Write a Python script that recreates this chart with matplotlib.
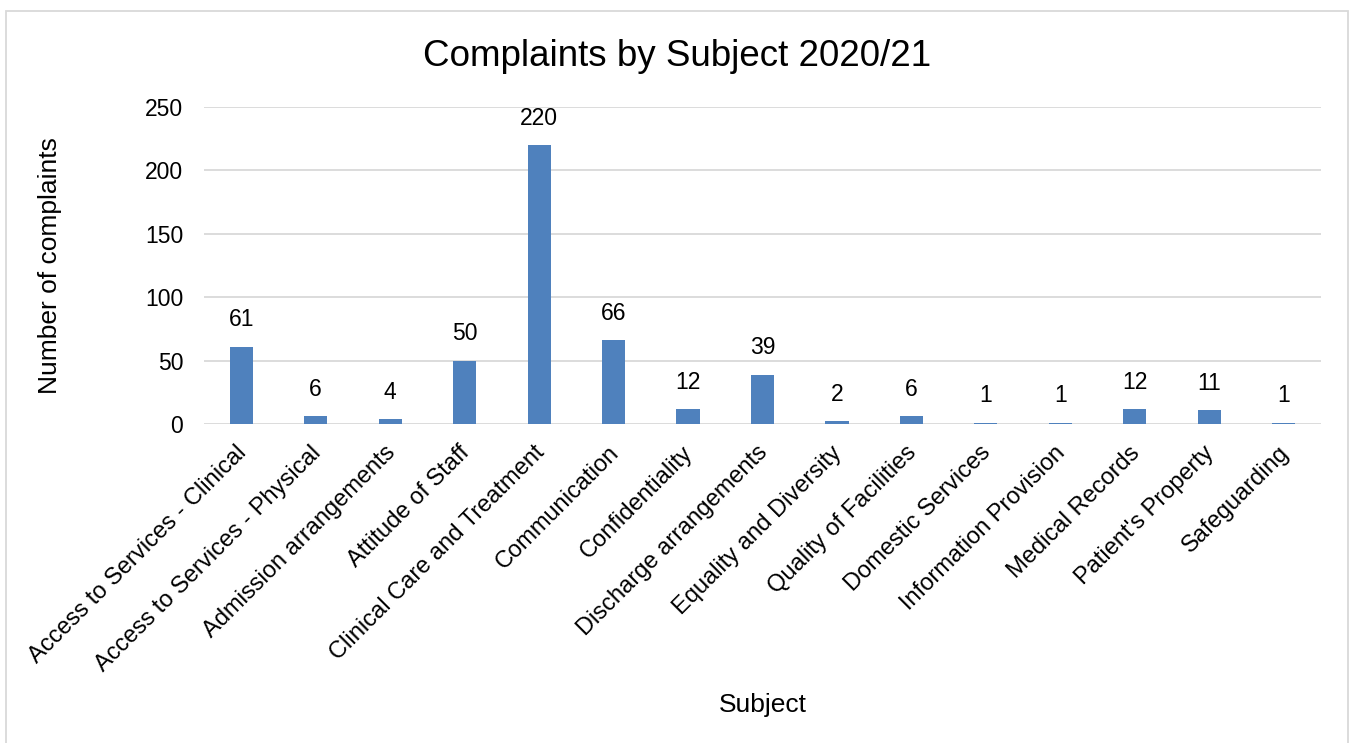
import matplotlib.pyplot as plt
import numpy as np
from matplotlib.patches import Rectangle
from matplotlib.transforms import ScaledTranslation

plt.rcParams['font.family'] = ['Liberation Sans', 'DejaVu Sans']

subjects = [
    'Access to Services - Clinical', 'Access to Services - Physical',
    'Admission arrangements', 'Attitude of Staff', 'Clinical Care and Treatment',
    'Communication', 'Confidentiality', 'Discharge arrangements',
    'Equality and Diversity', 'Quality of Facilities', 'Domestic Services',
    'Information Provision', 'Medical Records', "Patient's Property", 'Safeguarding',
]
complaints = [61, 6, 4, 50, 220, 66, 12, 39, 2, 6, 1, 1, 12, 11, 1]
yticks = [0, 50, 100, 150, 200, 250]

W, H = 1354, 743
fig = plt.figure(figsize=(W / 100, H / 100), dpi=100)
ax = fig.add_axes([204 / W, 1 - 424 / H, (1321 - 204) / W, (424 - 107) / H])

x = np.arange(len(subjects))
bars = ax.bar(x, complaints, width=0.31, color='#4f81bd', zorder=3)
for b, v in zip(bars, complaints):
    ax.annotate(str(v), (b.get_x() + b.get_width() / 2, v), xytext=(0, 11),
                textcoords='offset points', ha='center', va='bottom',
                fontsize=16.5, color='#000000')

ax.set_xlim(-0.5, len(subjects) - 0.5)
ax.set_ylim(0, 250)
ax.set_yticks(yticks)
ax.set_xticks(x)
ax.set_xticklabels(subjects, rotation=45, ha='right', rotation_mode='anchor',
                   fontsize=17)
ax.tick_params(axis='y', labelsize=16.5, length=0, pad=15)
ax.tick_params(axis='x', length=0, pad=10)
# nudge the slanted category labels a little left and down
shift = ScaledTranslation(-0.06, -0.04, fig.dpi_scale_trans)
for lbl in ax.get_xticklabels():
    lbl.set_transform(lbl.get_transform() + shift)
ax.grid(axis='y', color='#d9d9d9', linewidth=1.3, zorder=0)
for s in ax.spines.values():
    s.set_visible(False)

ax.set_ylabel('Number of complaints', fontsize=19, labelpad=60)
ax.set_xlabel('Subject', fontsize=19, labelpad=12)
fig.text(0.5, 1 - 56 / H, 'Complaints by Subject 2020/21', ha='center',
         va='center', fontsize=26.5)

fig.patches.append(Rectangle((6 / W, -0.01), (1348 - 6) / W, 1 - 11 / H + 0.01,
                             transform=fig.transFigure, fill=False,
                             edgecolor='#d9d9d9', linewidth=1.3))

fig.savefig('out.png', dpi=100)
